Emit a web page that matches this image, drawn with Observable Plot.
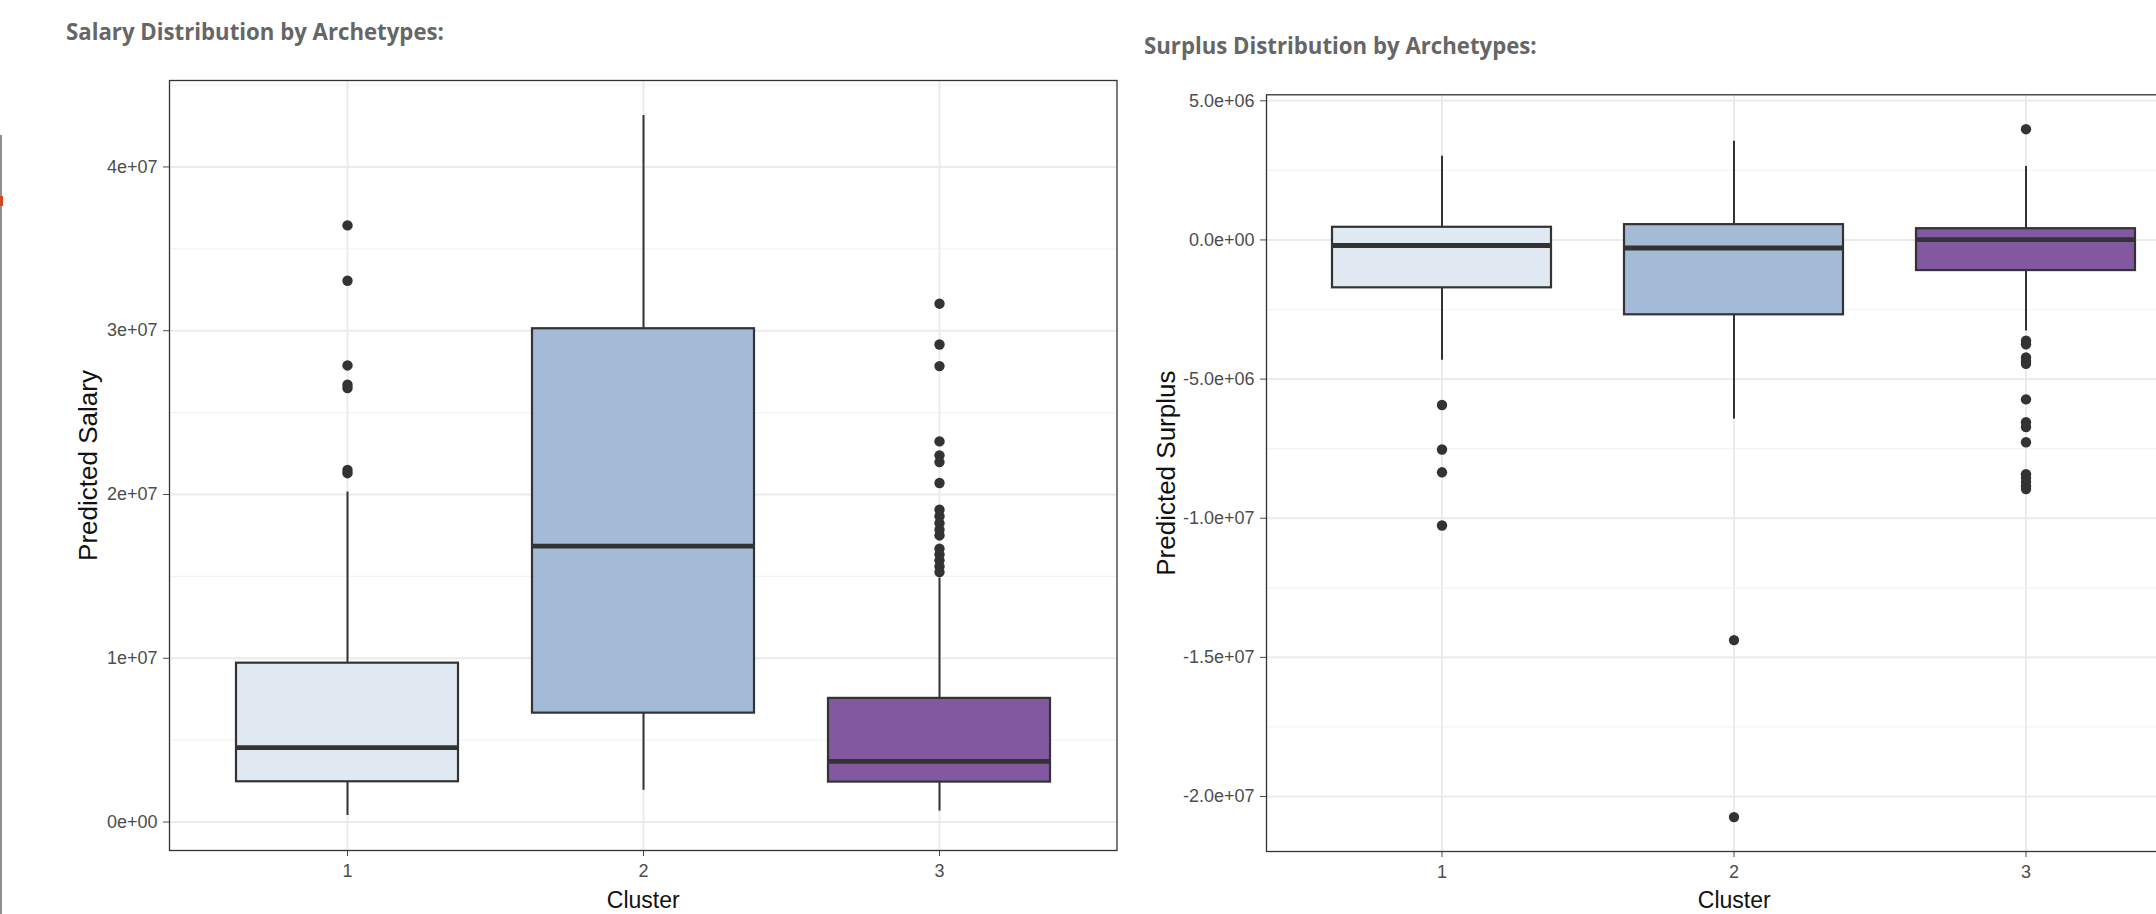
<!DOCTYPE html>
<html>
<head>
<meta charset="utf-8">
<script src="https://cdn.jsdelivr.net/npm/d3@7"></script>
<script src="https://cdn.jsdelivr.net/npm/@observablehq/plot@0.6"></script>
<style>
  html, body { margin: 0; padding: 0; background: #fff; width: 2156px; height: 914px; overflow: hidden; position: relative; }
  .wrap { position: absolute; }
  .wrap svg { max-width: none !important; display: block; }
  .title { position: absolute; font-family: "Open Sans", sans-serif; font-weight: 700; font-size: 23px; line-height: 23px; color: #666; white-space: nowrap; transform: scaleX(0.965); transform-origin: left center; }
  .edge { position: absolute; left: 0; top: 135px; width: 2px; height: 779px; background: #8f8f8f; z-index: 5; }
  .edgeRed { position: absolute; left: 0; top: 196px; width: 3px; height: 10px; background: #d9451f; z-index: 6; }
</style>
</head>
<body>
<div class="title" style="left:66px; top:20px;">Salary Distribution by Archetypes:</div>
<div class="title" style="left:1144px; top:34px;">Surplus Distribution by Archetypes:</div>
<div id="salary" class="wrap" style="left:0px; top:60px; width:1130px;"></div>
<div id="surplus" class="wrap" style="left:1130px; top:74px; width:1100px;"></div>
<div class="edge"></div>
<div class="edgeRed"></div>
<script>
// ---- data ----
const clusters = ["1", "2", "3"];
const fills = ["#e0e8f2", "#a4bbd8", "#8258a1"];

const salaryLow    = [0.40e6, 1.94e6, 0.67e6];
const salaryQ1     = [2.46e6, 6.65e6, 2.44e6];
const salaryMedian = [4.55e6, 16.85e6, 3.71e6];
const salaryQ3     = [9.70e6, 30.12e6, 7.55e6];
const salaryHigh   = [20.15e6, 43.14e6, 14.9e6];
const salaryOut1 = [36.43e6, 33.05e6, 27.88e6, 26.7e6, 26.5e6, 21.5e6, 21.3e6];
const salaryOut2 = [];
const salaryOut3 = [31.65e6, 29.16e6, 27.84e6, 23.24e6, 22.39e6, 21.98e6, 20.7e6, 19.07e6, 18.67e6, 18.25e6, 17.85e6, 17.5e6, 16.69e6, 16.34e6, 15.98e6, 15.61e6, 15.26e6];
const salaryTicks = [0, 1e7, 2e7, 3e7, 4e7];
const salaryTickLabels = ["0e+00", "1e+07", "2e+07", "3e+07", "4e+07"];
const salaryMinor = [5e6, 15e6, 25e6, 35e6, 45e6];

const surplusLow    = [-4.32e6, -6.43e6, -3.27e6];
const surplusQ1     = [-1.72e6, -2.69e6, -1.10e6];
const surplusMedian = [-0.20e6, -0.29e6, 0.01e6];
const surplusQ3     = [0.455e6, 0.55e6, 0.405e6];
const surplusHigh   = [3.01e6, 3.55e6, 2.64e6];
const surplusOut1 = [-5.93e6, -7.53e6, -8.35e6, -10.26e6];
const surplusOut2 = [-14.38e6, -20.74e6];
const surplusOut3 = [3.98e6, -3.62e6, -3.75e6, -4.22e6, -4.35e6, -4.45e6, -5.73e6, -6.55e6, -6.72e6, -7.27e6, -8.42e6, -8.55e6, -8.70e6, -8.85e6, -8.95e6];
const surplusTicks = [-2e7, -1.5e7, -1e7, -5e6, 0, 5e6];
const surplusTickLabels = ["-2.0e+07", "-1.5e+07", "-1.0e+07", "-5.0e+06", "0.0e+00", "5.0e+06"];
const surplusMinor = [-17.5e6, -12.5e6, -7.5e6, -2.5e6, 2.5e6];

function buildStats(low, q1, med, q3, high) {
  return clusters.map((c, i) => ({cluster: c, low: low[i], q1: q1[i], median: med[i], q3: q3[i], high: high[i], fill: fills[i]}));
}
function buildOutliers(lists) {
  const out = [];
  lists.forEach((arr, i) => arr.forEach(v => out.push({cluster: clusters[i], value: v})));
  return out;
}

function boxChart({stats, outliers, ticks, tickLabels, minor, yLabel, width, height, margins, yLabelDx, xLabelDy}) {
  const all = stats.flatMap(d => [d.low, d.high]).concat(outliers.map(d => d.value));
  const [mn, mx] = d3.extent(all);
  const pad = (mx - mn) * 0.05;
  return Plot.plot({
    width, height,
    marginLeft: margins[0], marginRight: margins[1], marginTop: margins[2], marginBottom: margins[3],
    style: {fontFamily: "'Liberation Sans', Arial, sans-serif", fontSize: "18px", color: "#4d4d4d", background: "white", overflow: "visible", maxWidth: "none"},
    color: {type: "identity"},
    x: {type: "band", domain: clusters, paddingInner: 0.25, paddingOuter: 0.225, tickSize: 6, tickPadding: 8, label: null},
    y: {domain: [mn - pad, mx + pad], ticks: ticks, tickFormat: d => tickLabels[ticks.indexOf(d)], tickSize: 6, tickPadding: 6, label: null},
    marks: [
      Plot.ruleY(minor.filter(v => v > mn - pad && v < mx + pad), {stroke: "#f3f3f3", strokeWidth: 1.2}),
      Plot.ruleY(ticks, {stroke: "#ebebeb", strokeWidth: 2}),
      Plot.ruleX(clusters, {x: d => d, stroke: "#ebebeb", strokeWidth: 2}),
      Plot.ruleX(stats, {x: "cluster", y1: "q3", y2: "high", stroke: "#333", strokeWidth: 2}),
      Plot.ruleX(stats, {x: "cluster", y1: "low", y2: "q1", stroke: "#333", strokeWidth: 2}),
      Plot.barY(stats, {x: "cluster", y1: "q1", y2: "q3", fill: "fill", stroke: "#333", strokeWidth: 2.2}),
      Plot.tickY(stats, {x: "cluster", y: "median", stroke: "#333", strokeWidth: 4.8}),
      Plot.dot(outliers, {x: "cluster", y: "value", r: 5.2, fill: "#333", stroke: "none"}),
      Plot.frame({stroke: "#333", strokeWidth: 1.3}),
      Plot.text([yLabel], {frameAnchor: "left", textAnchor: "middle", lineAnchor: "middle", rotate: -90, dx: yLabelDx, fontSize: 26, fill: "#111"}),
      Plot.text(["Cluster"], {frameAnchor: "bottom", textAnchor: "middle", lineAnchor: "middle", dy: xLabelDy, fontSize: 23, fill: "#111"})
    ]
  });
}

document.getElementById("salary").appendChild(boxChart({
  stats: buildStats(salaryLow, salaryQ1, salaryMedian, salaryQ3, salaryHigh),
  outliers: buildOutliers([salaryOut1, salaryOut2, salaryOut3]),
  ticks: salaryTicks, tickLabels: salaryTickLabels, minor: salaryMinor,
  yLabel: "Predicted Salary",
  width: 1130, height: 854, margins: [169, 13.5, 20, 64], yLabelDx: -80.5, xLabelDy: 50
}));

document.getElementById("surplus").appendChild(boxChart({
  stats: buildStats(surplusLow, surplusQ1, surplusMedian, surplusQ3, surplusHigh),
  outliers: buildOutliers([surplusOut1, surplusOut2, surplusOut3]),
  ticks: surplusTicks, tickLabels: surplusTickLabels, minor: surplusMinor,
  yLabel: "Predicted Surplus",
  width: 1100, height: 840, margins: [136, 28.6, 20.3, 63], yLabelDx: -100, xLabelDy: 49
}));
</script>
</body>
</html>
